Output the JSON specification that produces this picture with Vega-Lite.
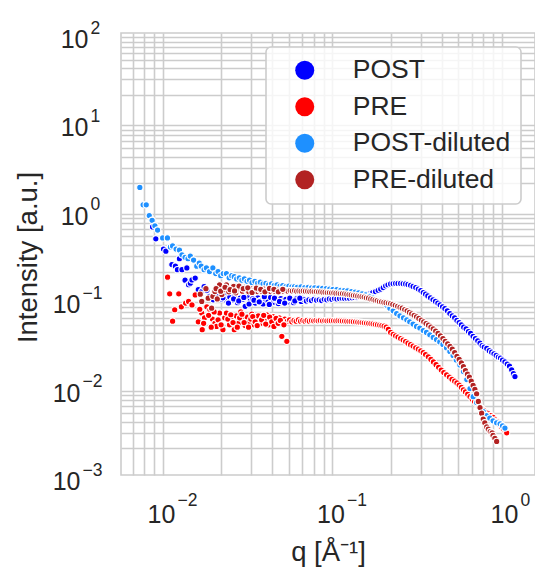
{
  "$schema": "https://vega.github.io/schema/vega-lite/v6.json",
  "autosize": {"type": "none"},
  "width": 414,
  "height": 442,
  "padding": {"left": 121, "top": 33, "right": 0, "bottom": 96},
  "background": "white",
  "config": {
    "view": {"stroke": "#cccccc", "strokeWidth": 1.6},
    "font": "Liberation Sans",
    "axis": {"labelFont": "Liberation Sans", "titleFont": "Liberation Sans", "labelColor": "#262626", "titleColor": "#262626", "titleFontWeight": "normal"},
    "legend": {"labelFont": "Liberation Sans", "strokeWidth": 1.6}
  },
  "data": {"values": [
    {"s":"POST","q":0.00785,"I":0.64},{"s":"POST","q":0.0082,"I":0.47},{"s":"POST","q":0.0091,"I":0.36},{"s":"POST","q":0.0094,"I":0.34},{"s":"POST","q":0.0102,"I":0.24},{"s":"POST","q":0.0107,"I":0.23},{"s":"POST","q":0.011,"I":0.21},{"s":"POST","q":0.0113,"I":0.28},{"s":"POST","q":0.0117,"I":0.21},{"s":"POST","q":0.0122,"I":0.16},{"s":"POST","q":0.0125,"I":0.22},{"s":"POST","q":0.0128,"I":0.142},{"s":"POST","q":0.0131,"I":0.148},{"s":"POST","q":0.0134,"I":0.161},{"s":"POST","q":0.014,"I":0.169},{"s":"POST","q":0.0146,"I":0.125},{"s":"POST","q":0.0153,"I":0.119},{"s":"POST","q":0.0158,"I":0.135},{"s":"POST","q":0.0164,"I":0.122},{"s":"POST","q":0.017,"I":0.105},{"s":"POST","q":0.0179,"I":0.096},{"s":"POST","q":0.0186,"I":0.13},{"s":"POST","q":0.0193,"I":0.108},{"s":"POST","q":0.02,"I":0.098},{"s":"POST","q":0.0208,"I":0.112},{"s":"POST","q":0.0216,"I":0.092},{"s":"POST","q":0.0224,"I":0.103},{"s":"POST","q":0.0232,"I":0.095},{"s":"POST","q":0.024,"I":0.106},{"s":"POST","q":0.0249,"I":0.089},{"s":"POST","q":0.0258,"I":0.1},{"s":"POST","q":0.0267,"I":0.097},{"s":"POST","q":0.0276,"I":0.081},{"s":"POST","q":0.0286,"I":0.104},{"s":"POST","q":0.0296,"I":0.093},{"s":"POST","q":0.0306,"I":0.099},{"s":"POST","q":0.0317,"I":0.088},{"s":"POST","q":0.0328,"I":0.101},{"s":"POST","q":0.034,"I":0.094},{"s":"POST","q":0.0352,"I":0.086},{"s":"POST","q":0.0364,"I":0.098},{"s":"POST","q":0.0377,"I":0.092},{"s":"POST","q":0.039,"I":0.102},{"s":"POST","q":0.0404,"I":0.09},{"s":"POST","q":0.0418,"I":0.096},{"s":"POST","q":0.0433,"I":0.087},{"s":"POST","q":0.0448,"I":0.099},{"s":"POST","q":0.0464,"I":0.093},{"s":"POST","q":0.048,"I":0.097},{"s":"POST","q":0.0497,"I":0.091},{"s":"POST","q":0.0515,"I":0.095},{"s":"POST","q":0.0533,"I":0.089},{"s":"POST","q":0.0552,"I":0.098},{"s":"POST","q":0.0571,"I":0.094},{"s":"POST","q":0.0591,"I":0.092},{"s":"POST","q":0.0612,"I":0.097},{"s":"POST","q":0.0634,"I":0.093},{"s":"POST","q":0.0656,"I":0.096},{"s":"POST","q":0.0679,"I":0.094},{"s":"POST","q":0.0703,"I":0.097},{"s":"POST","q":0.0728,"I":0.095},{"s":"POST","q":0.0754,"I":0.096},{"s":"POST","q":0.078,"I":0.094},{"s":"POST","q":0.0808,"I":0.097},{"s":"POST","q":0.0836,"I":0.096},{"s":"POST","q":0.0866,"I":0.098},{"s":"POST","q":0.0896,"I":0.097},{"s":"POST","q":0.0928,"I":0.099},{"s":"POST","q":0.096,"I":0.098},{"s":"POST","q":0.0994,"I":0.099},{"s":"POST","q":0.103,"I":0.1},{"s":"POST","q":0.1065,"I":0.099},{"s":"POST","q":0.11,"I":0.1},{"s":"POST","q":0.114,"I":0.1},{"s":"POST","q":0.118,"I":0.101},{"s":"POST","q":0.122,"I":0.102},{"s":"POST","q":0.126,"I":0.103},{"s":"POST","q":0.131,"I":0.105},{"s":"POST","q":0.136,"I":0.107},{"s":"POST","q":0.141,"I":0.109},{"s":"POST","q":0.146,"I":0.111},{"s":"POST","q":0.151,"I":0.113},{"s":"POST","q":0.156,"I":0.116},{"s":"POST","q":0.162,"I":0.119},{"s":"POST","q":0.168,"I":0.123},{"s":"POST","q":0.174,"I":0.127},{"s":"POST","q":0.18,"I":0.132},{"s":"POST","q":0.186,"I":0.138},{"s":"POST","q":0.192,"I":0.142},{"s":"POST","q":0.199,"I":0.145},{"s":"POST","q":0.206,"I":0.146},{"s":"POST","q":0.213,"I":0.147},{"s":"POST","q":0.22,"I":0.147},{"s":"POST","q":0.228,"I":0.147},{"s":"POST","q":0.236,"I":0.146},{"s":"POST","q":0.244,"I":0.145},{"s":"POST","q":0.252,"I":0.143},{"s":"POST","q":0.261,"I":0.14},{"s":"POST","q":0.27,"I":0.136},{"s":"POST","q":0.28,"I":0.132},{"s":"POST","q":0.29,"I":0.127},{"s":"POST","q":0.3,"I":0.122},{"s":"POST","q":0.31,"I":0.116},{"s":"POST","q":0.32,"I":0.111},{"s":"POST","q":0.33,"I":0.106},{"s":"POST","q":0.342,"I":0.101},{"s":"POST","q":0.354,"I":0.096},{"s":"POST","q":0.366,"I":0.092},{"s":"POST","q":0.378,"I":0.088},{"s":"POST","q":0.39,"I":0.084},{"s":"POST","q":0.403,"I":0.08},{"s":"POST","q":0.416,"I":0.076},{"s":"POST","q":0.43,"I":0.072},{"s":"POST","q":0.445,"I":0.067},{"s":"POST","q":0.46,"I":0.063},{"s":"POST","q":0.475,"I":0.06},{"s":"POST","q":0.49,"I":0.056},{"s":"POST","q":0.505,"I":0.053},{"s":"POST","q":0.52,"I":0.05},{"s":"POST","q":0.537,"I":0.047},{"s":"POST","q":0.555,"I":0.045},{"s":"POST","q":0.573,"I":0.042},{"s":"POST","q":0.59,"I":0.04},{"s":"POST","q":0.61,"I":0.037},{"s":"POST","q":0.63,"I":0.035},{"s":"POST","q":0.65,"I":0.033},{"s":"POST","q":0.67,"I":0.031},{"s":"POST","q":0.69,"I":0.029},{"s":"POST","q":0.71,"I":0.028},{"s":"POST","q":0.735,"I":0.027},{"s":"POST","q":0.76,"I":0.0255},{"s":"POST","q":0.785,"I":0.0245},{"s":"POST","q":0.81,"I":0.0235},{"s":"POST","q":0.835,"I":0.0225},{"s":"POST","q":0.86,"I":0.0215},{"s":"POST","q":0.885,"I":0.021},{"s":"POST","q":0.91,"I":0.02},{"s":"POST","q":0.94,"I":0.019},{"s":"POST","q":0.97,"I":0.018},{"s":"POST","q":1.0,"I":0.017},{"s":"POST","q":1.03,"I":0.0155},{"s":"POST","q":1.055,"I":0.014},{"s":"POST","q":1.077,"I":0.013},
    {"s":"POST","q":0.0204,"I":0.101},{"s":"POST","q":0.022,"I":0.088},{"s":"POST","q":0.0236,"I":0.098},{"s":"POST","q":0.0253,"I":0.093},{"s":"POST","q":0.0271,"I":0.102},{"s":"POST","q":0.0291,"I":0.086},{"s":"POST","q":0.0311,"I":0.095},{"s":"POST","q":0.0334,"I":0.091},{"s":"POST","q":0.0358,"I":0.104},{"s":"POST","q":0.0383,"I":0.085},{"s":"POST","q":0.0411,"I":0.1},{"s":"POST","q":0.044,"I":0.092},{"s":"POST","q":0.0472,"I":0.088},{"s":"POST","q":0.0506,"I":0.1},{"s":"POST","q":0.0542,"I":0.093},{"s":"POST","q":0.058,"I":0.1},
    {"s":"PRE","q":0.00962,"I":0.173},{"s":"PRE","q":0.0099,"I":0.112},{"s":"PRE","q":0.0103,"I":0.055},{"s":"PRE","q":0.0106,"I":0.074},{"s":"PRE","q":0.0112,"I":0.112},{"s":"PRE","q":0.0116,"I":0.08},{"s":"PRE","q":0.0123,"I":0.088},{"s":"PRE","q":0.0128,"I":0.092},{"s":"PRE","q":0.0134,"I":0.084},{"s":"PRE","q":0.014,"I":0.109},{"s":"PRE","q":0.0146,"I":0.054},{"s":"PRE","q":0.0153,"I":0.068},{"s":"PRE","q":0.0154,"I":0.044},{"s":"PRE","q":0.0159,"I":0.06},{"s":"PRE","q":0.0164,"I":0.08},{"s":"PRE","q":0.0171,"I":0.074},{"s":"PRE","q":0.0177,"I":0.058},{"s":"PRE","q":0.0183,"I":0.052},{"s":"PRE","q":0.0187,"I":0.048},{"s":"PRE","q":0.0195,"I":0.068},{"s":"PRE","q":0.0204,"I":0.044},{"s":"PRE","q":0.0209,"I":0.06},{"s":"PRE","q":0.0214,"I":0.068},{"s":"PRE","q":0.0223,"I":0.05},{"s":"PRE","q":0.023,"I":0.056},{"s":"PRE","q":0.0238,"I":0.044},{"s":"PRE","q":0.0245,"I":0.063},{"s":"PRE","q":0.0252,"I":0.052},{"s":"PRE","q":0.026,"I":0.07},{"s":"PRE","q":0.0268,"I":0.057},{"s":"PRE","q":0.0276,"I":0.049},{"s":"PRE","q":0.0284,"I":0.061},{"s":"PRE","q":0.0293,"I":0.054},{"s":"PRE","q":0.0302,"I":0.066},{"s":"PRE","q":0.0311,"I":0.05},{"s":"PRE","q":0.032,"I":0.058},{"s":"PRE","q":0.033,"I":0.063},{"s":"PRE","q":0.034,"I":0.052},{"s":"PRE","q":0.035,"I":0.06},{"s":"PRE","q":0.036,"I":0.055},{"s":"PRE","q":0.037,"I":0.065},{"s":"PRE","q":0.038,"I":0.05},{"s":"PRE","q":0.039,"I":0.058},{"s":"PRE","q":0.0402,"I":0.062},{"s":"PRE","q":0.0414,"I":0.053},{"s":"PRE","q":0.0426,"I":0.057},{"s":"PRE","q":0.0438,"I":0.06},{"s":"PRE","q":0.0454,"I":0.037},{"s":"PRE","q":0.046,"I":0.054},{"s":"PRE","q":0.0473,"I":0.058},{"s":"PRE","q":0.0486,"I":0.0325},{"s":"PRE","q":0.049,"I":0.055},{"s":"PRE","q":0.0505,"I":0.057},{"s":"PRE","q":0.052,"I":0.054},{"s":"PRE","q":0.0536,"I":0.056},{"s":"PRE","q":0.0552,"I":0.055},{"s":"PRE","q":0.0569,"I":0.057},{"s":"PRE","q":0.0586,"I":0.055},{"s":"PRE","q":0.0604,"I":0.056},{"s":"PRE","q":0.0622,"I":0.055},{"s":"PRE","q":0.064,"I":0.056},{"s":"PRE","q":0.066,"I":0.055},{"s":"PRE","q":0.068,"I":0.056},{"s":"PRE","q":0.07,"I":0.0555},{"s":"PRE","q":0.0722,"I":0.056},{"s":"PRE","q":0.0744,"I":0.0555},{"s":"PRE","q":0.0766,"I":0.056},{"s":"PRE","q":0.079,"I":0.0555},{"s":"PRE","q":0.0814,"I":0.0558},{"s":"PRE","q":0.0838,"I":0.0555},{"s":"PRE","q":0.0864,"I":0.0557},{"s":"PRE","q":0.089,"I":0.0556},{"s":"PRE","q":0.0917,"I":0.0556},{"s":"PRE","q":0.0945,"I":0.0555},{"s":"PRE","q":0.0974,"I":0.0556},{"s":"PRE","q":0.1003,"I":0.0554},{"s":"PRE","q":0.1034,"I":0.0553},{"s":"PRE","q":0.1065,"I":0.0552},{"s":"PRE","q":0.1097,"I":0.055},{"s":"PRE","q":0.113,"I":0.0548},{"s":"PRE","q":0.1165,"I":0.0546},{"s":"PRE","q":0.12,"I":0.0543},{"s":"PRE","q":0.1236,"I":0.054},{"s":"PRE","q":0.1274,"I":0.0537},{"s":"PRE","q":0.1312,"I":0.0534},{"s":"PRE","q":0.1352,"I":0.053},{"s":"PRE","q":0.1393,"I":0.0527},{"s":"PRE","q":0.1435,"I":0.0523},{"s":"PRE","q":0.1478,"I":0.052},{"s":"PRE","q":0.1523,"I":0.0516},{"s":"PRE","q":0.1569,"I":0.0512},{"s":"PRE","q":0.1617,"I":0.0507},{"s":"PRE","q":0.1666,"I":0.0502},{"s":"PRE","q":0.1716,"I":0.0496},{"s":"PRE","q":0.1768,"I":0.049},{"s":"PRE","q":0.1822,"I":0.0482},{"s":"PRE","q":0.1877,"I":0.047},{"s":"PRE","q":0.193,"I":0.0445},{"s":"PRE","q":0.199,"I":0.041},{"s":"PRE","q":0.206,"I":0.039},{"s":"PRE","q":0.213,"I":0.0375},{"s":"PRE","q":0.22,"I":0.0363},{"s":"PRE","q":0.228,"I":0.035},{"s":"PRE","q":0.236,"I":0.0336},{"s":"PRE","q":0.244,"I":0.0323},{"s":"PRE","q":0.252,"I":0.031},{"s":"PRE","q":0.261,"I":0.0298},{"s":"PRE","q":0.27,"I":0.0287},{"s":"PRE","q":0.28,"I":0.0275},{"s":"PRE","q":0.29,"I":0.0265},{"s":"PRE","q":0.3,"I":0.0254},{"s":"PRE","q":0.31,"I":0.0242},{"s":"PRE","q":0.32,"I":0.023},{"s":"PRE","q":0.332,"I":0.0217},{"s":"PRE","q":0.344,"I":0.0203},{"s":"PRE","q":0.356,"I":0.019},{"s":"PRE","q":0.369,"I":0.0177},{"s":"PRE","q":0.382,"I":0.0165},{"s":"PRE","q":0.396,"I":0.0154},{"s":"PRE","q":0.41,"I":0.0144},{"s":"PRE","q":0.426,"I":0.0136},{"s":"PRE","q":0.442,"I":0.0128},{"s":"PRE","q":0.458,"I":0.0121},{"s":"PRE","q":0.475,"I":0.0115},{"s":"PRE","q":0.49,"I":0.011},{"s":"PRE","q":0.505,"I":0.0104},{"s":"PRE","q":0.52,"I":0.0098},{"s":"PRE","q":0.535,"I":0.0092},{"s":"PRE","q":0.55,"I":0.0087},{"s":"PRE","q":0.567,"I":0.0082},{"s":"PRE","q":0.585,"I":0.0077},{"s":"PRE","q":0.603,"I":0.0072},{"s":"PRE","q":0.622,"I":0.0068},{"s":"PRE","q":0.642,"I":0.0064},{"s":"PRE","q":0.662,"I":0.006},{"s":"PRE","q":0.683,"I":0.0057},{"s":"PRE","q":0.705,"I":0.0054},{"s":"PRE","q":0.728,"I":0.0051},{"s":"PRE","q":0.752,"I":0.0049},{"s":"PRE","q":0.777,"I":0.0047},{"s":"PRE","q":0.8,"I":0.0045},{"s":"PRE","q":0.825,"I":0.0042},{"s":"PRE","q":0.85,"I":0.004},{"s":"PRE","q":0.875,"I":0.0037},{"s":"PRE","q":0.9,"I":0.0035},{"s":"PRE","q":0.925,"I":0.0033},{"s":"PRE","q":0.945,"I":0.0031},{"s":"PRE","q":0.963,"I":0.003},
    {"s":"PRE","q":0.0149,"I":0.075},{"s":"PRE","q":0.0157,"I":0.052},{"s":"PRE","q":0.0168,"I":0.064},{"s":"PRE","q":0.0174,"I":0.047},{"s":"PRE","q":0.0181,"I":0.07},{"s":"PRE","q":0.0191,"I":0.057},{"s":"PRE","q":0.0199,"I":0.05},{"s":"PRE","q":0.0218,"I":0.058},{"s":"PRE","q":0.0227,"I":0.065},{"s":"PRE","q":0.0234,"I":0.053},{"s":"PRE","q":0.0248,"I":0.047},{"s":"PRE","q":0.0256,"I":0.06},{"s":"PRE","q":0.0264,"I":0.066},{"s":"PRE","q":0.0272,"I":0.053},{"s":"PRE","q":0.0289,"I":0.047},{"s":"PRE","q":0.0298,"I":0.058},{"s":"PRE","q":0.0306,"I":0.062},{"s":"PRE","q":0.0316,"I":0.054},{"s":"PRE","q":0.0325,"I":0.049},{"s":"PRE","q":0.0345,"I":0.057},{"s":"PRE","q":0.0355,"I":0.064},{"s":"PRE","q":0.0365,"I":0.051},{"s":"PRE","q":0.0385,"I":0.061},{"s":"PRE","q":0.0396,"I":0.054},{"s":"PRE","q":0.0408,"I":0.048},{"s":"PRE","q":0.042,"I":0.059},{"s":"PRE","q":0.0432,"I":0.052},{"s":"PRE","q":0.0445,"I":0.056},{"s":"PRE","q":0.0467,"I":0.05},
    {"s":"POST-diluted","q":0.0066,"I":1.79},{"s":"POST-diluted","q":0.0069,"I":1.14},{"s":"POST-diluted","q":0.0072,"I":1.14},{"s":"POST-diluted","q":0.0075,"I":0.86},{"s":"POST-diluted","q":0.0078,"I":0.76},{"s":"POST-diluted","q":0.0081,"I":0.66},{"s":"POST-diluted","q":0.0084,"I":0.59},{"s":"POST-diluted","q":0.009,"I":0.48},{"s":"POST-diluted","q":0.0096,"I":0.48},{"s":"POST-diluted","q":0.01,"I":0.38},{"s":"POST-diluted","q":0.0103,"I":0.39},{"s":"POST-diluted","q":0.0108,"I":0.36},{"s":"POST-diluted","q":0.0113,"I":0.35},{"s":"POST-diluted","q":0.0117,"I":0.31},{"s":"POST-diluted","q":0.0122,"I":0.29},{"s":"POST-diluted","q":0.0127,"I":0.28},{"s":"POST-diluted","q":0.0131,"I":0.3},{"s":"POST-diluted","q":0.0137,"I":0.27},{"s":"POST-diluted","q":0.0143,"I":0.23},{"s":"POST-diluted","q":0.0148,"I":0.25},{"s":"POST-diluted","q":0.0152,"I":0.23},{"s":"POST-diluted","q":0.0158,"I":0.21},{"s":"POST-diluted","q":0.0163,"I":0.22},{"s":"POST-diluted","q":0.017,"I":0.2},{"s":"POST-diluted","q":0.0178,"I":0.22},{"s":"POST-diluted","q":0.0185,"I":0.19},{"s":"POST-diluted","q":0.0191,"I":0.2},{"s":"POST-diluted","q":0.0198,"I":0.18},{"s":"POST-diluted","q":0.0205,"I":0.19},{"s":"POST-diluted","q":0.0214,"I":0.19},{"s":"POST-diluted","q":0.0222,"I":0.17},{"s":"POST-diluted","q":0.023,"I":0.18},{"s":"POST-diluted","q":0.0238,"I":0.175},{"s":"POST-diluted","q":0.0246,"I":0.165},{"s":"POST-diluted","q":0.0255,"I":0.17},{"s":"POST-diluted","q":0.0264,"I":0.16},{"s":"POST-diluted","q":0.0273,"I":0.165},{"s":"POST-diluted","q":0.0283,"I":0.155},{"s":"POST-diluted","q":0.0293,"I":0.16},{"s":"POST-diluted","q":0.0303,"I":0.15},{"s":"POST-diluted","q":0.0315,"I":0.155},{"s":"POST-diluted","q":0.0327,"I":0.148},{"s":"POST-diluted","q":0.0339,"I":0.152},{"s":"POST-diluted","q":0.0352,"I":0.145},{"s":"POST-diluted","q":0.0366,"I":0.147},{"s":"POST-diluted","q":0.038,"I":0.142},{"s":"POST-diluted","q":0.0395,"I":0.145},{"s":"POST-diluted","q":0.041,"I":0.14},{"s":"POST-diluted","q":0.0426,"I":0.142},{"s":"POST-diluted","q":0.0443,"I":0.137},{"s":"POST-diluted","q":0.046,"I":0.139},{"s":"POST-diluted","q":0.048,"I":0.135},{"s":"POST-diluted","q":0.05,"I":0.137},{"s":"POST-diluted","q":0.052,"I":0.134},{"s":"POST-diluted","q":0.054,"I":0.135},{"s":"POST-diluted","q":0.056,"I":0.133},{"s":"POST-diluted","q":0.059,"I":0.134},{"s":"POST-diluted","q":0.062,"I":0.132},{"s":"POST-diluted","q":0.065,"I":0.133},{"s":"POST-diluted","q":0.068,"I":0.131},{"s":"POST-diluted","q":0.071,"I":0.131},{"s":"POST-diluted","q":0.075,"I":0.13},{"s":"POST-diluted","q":0.079,"I":0.129},{"s":"POST-diluted","q":0.083,"I":0.128},{"s":"POST-diluted","q":0.087,"I":0.127},{"s":"POST-diluted","q":0.091,"I":0.126},{"s":"POST-diluted","q":0.096,"I":0.125},{"s":"POST-diluted","q":0.101,"I":0.123},{"s":"POST-diluted","q":0.106,"I":0.122},{"s":"POST-diluted","q":0.111,"I":0.121},{"s":"POST-diluted","q":0.117,"I":0.119},{"s":"POST-diluted","q":0.123,"I":0.117},{"s":"POST-diluted","q":0.129,"I":0.115},{"s":"POST-diluted","q":0.135,"I":0.112},{"s":"POST-diluted","q":0.142,"I":0.109},{"s":"POST-diluted","q":0.149,"I":0.105},{"s":"POST-diluted","q":0.156,"I":0.101},{"s":"POST-diluted","q":0.164,"I":0.097},{"s":"POST-diluted","q":0.172,"I":0.093},{"s":"POST-diluted","q":0.18,"I":0.088},{"s":"POST-diluted","q":0.189,"I":0.083},{"s":"POST-diluted","q":0.197,"I":0.077},{"s":"POST-diluted","q":0.206,"I":0.072},{"s":"POST-diluted","q":0.216,"I":0.067},{"s":"POST-diluted","q":0.226,"I":0.063},{"s":"POST-diluted","q":0.237,"I":0.06},{"s":"POST-diluted","q":0.248,"I":0.057},{"s":"POST-diluted","q":0.258,"I":0.054},{"s":"POST-diluted","q":0.27,"I":0.051},{"s":"POST-diluted","q":0.283,"I":0.048},{"s":"POST-diluted","q":0.296,"I":0.046},{"s":"POST-diluted","q":0.31,"I":0.043},{"s":"POST-diluted","q":0.324,"I":0.041},{"s":"POST-diluted","q":0.339,"I":0.0385},{"s":"POST-diluted","q":0.355,"I":0.036},{"s":"POST-diluted","q":0.371,"I":0.034},{"s":"POST-diluted","q":0.388,"I":0.032},{"s":"POST-diluted","q":0.405,"I":0.03},{"s":"POST-diluted","q":0.425,"I":0.0275},{"s":"POST-diluted","q":0.445,"I":0.025},{"s":"POST-diluted","q":0.465,"I":0.0225},{"s":"POST-diluted","q":0.485,"I":0.02},{"s":"POST-diluted","q":0.51,"I":0.0176},{"s":"POST-diluted","q":0.535,"I":0.0148},{"s":"POST-diluted","q":0.56,"I":0.012},{"s":"POST-diluted","q":0.585,"I":0.0095},{"s":"POST-diluted","q":0.611,"I":0.0077},{"s":"POST-diluted","q":0.64,"I":0.0066},{"s":"POST-diluted","q":0.67,"I":0.0058},{"s":"POST-diluted","q":0.7,"I":0.0052},{"s":"POST-diluted","q":0.73,"I":0.0047},{"s":"POST-diluted","q":0.765,"I":0.0044},{"s":"POST-diluted","q":0.8,"I":0.0041},{"s":"POST-diluted","q":0.84,"I":0.0039},{"s":"POST-diluted","q":0.88,"I":0.0038},{"s":"POST-diluted","q":0.91,"I":0.0036},{"s":"POST-diluted","q":0.94,"I":0.0034},
    {"s":"PRE-diluted","q":0.015,"I":0.111},{"s":"PRE-diluted","q":0.0153,"I":0.092},{"s":"PRE-diluted","q":0.0162,"I":0.128},{"s":"PRE-diluted","q":0.0167,"I":0.1},{"s":"PRE-diluted","q":0.0175,"I":0.077},{"s":"PRE-diluted","q":0.0178,"I":0.105},{"s":"PRE-diluted","q":0.0183,"I":0.119},{"s":"PRE-diluted","q":0.0189,"I":0.098},{"s":"PRE-diluted","q":0.0195,"I":0.142},{"s":"PRE-diluted","q":0.0201,"I":0.11},{"s":"PRE-diluted","q":0.0207,"I":0.125},{"s":"PRE-diluted","q":0.0214,"I":0.142},{"s":"PRE-diluted","q":0.0221,"I":0.118},{"s":"PRE-diluted","q":0.0228,"I":0.13},{"s":"PRE-diluted","q":0.0236,"I":0.136},{"s":"PRE-diluted","q":0.0243,"I":0.115},{"s":"PRE-diluted","q":0.025,"I":0.127},{"s":"PRE-diluted","q":0.0258,"I":0.13},{"s":"PRE-diluted","q":0.0266,"I":0.12},{"s":"PRE-diluted","q":0.0273,"I":0.133},{"s":"PRE-diluted","q":0.0281,"I":0.124},{"s":"PRE-diluted","q":0.029,"I":0.118},{"s":"PRE-diluted","q":0.0298,"I":0.128},{"s":"PRE-diluted","q":0.0307,"I":0.121},{"s":"PRE-diluted","q":0.0316,"I":0.126},{"s":"PRE-diluted","q":0.0326,"I":0.119},{"s":"PRE-diluted","q":0.0336,"I":0.124},{"s":"PRE-diluted","q":0.0346,"I":0.12},{"s":"PRE-diluted","q":0.0356,"I":0.127},{"s":"PRE-diluted","q":0.0367,"I":0.121},{"s":"PRE-diluted","q":0.0378,"I":0.124},{"s":"PRE-diluted","q":0.039,"I":0.119},{"s":"PRE-diluted","q":0.0402,"I":0.123},{"s":"PRE-diluted","q":0.0414,"I":0.12},{"s":"PRE-diluted","q":0.0426,"I":0.124},{"s":"PRE-diluted","q":0.0439,"I":0.121},{"s":"PRE-diluted","q":0.0452,"I":0.123},{"s":"PRE-diluted","q":0.0466,"I":0.12},{"s":"PRE-diluted","q":0.048,"I":0.122},{"s":"PRE-diluted","q":0.0494,"I":0.12},{"s":"PRE-diluted","q":0.0509,"I":0.122},{"s":"PRE-diluted","q":0.0524,"I":0.121},{"s":"PRE-diluted","q":0.054,"I":0.122},{"s":"PRE-diluted","q":0.0556,"I":0.12},{"s":"PRE-diluted","q":0.0573,"I":0.121},{"s":"PRE-diluted","q":0.059,"I":0.12},{"s":"PRE-diluted","q":0.0608,"I":0.121},{"s":"PRE-diluted","q":0.0626,"I":0.12},{"s":"PRE-diluted","q":0.0645,"I":0.12},{"s":"PRE-diluted","q":0.0664,"I":0.119},{"s":"PRE-diluted","q":0.0684,"I":0.12},{"s":"PRE-diluted","q":0.0705,"I":0.119},{"s":"PRE-diluted","q":0.0726,"I":0.119},{"s":"PRE-diluted","q":0.0748,"I":0.118},{"s":"PRE-diluted","q":0.077,"I":0.118},{"s":"PRE-diluted","q":0.0793,"I":0.117},{"s":"PRE-diluted","q":0.0817,"I":0.117},{"s":"PRE-diluted","q":0.0842,"I":0.116},{"s":"PRE-diluted","q":0.0867,"I":0.116},{"s":"PRE-diluted","q":0.0893,"I":0.115},{"s":"PRE-diluted","q":0.092,"I":0.115},{"s":"PRE-diluted","q":0.0947,"I":0.114},{"s":"PRE-diluted","q":0.0976,"I":0.114},{"s":"PRE-diluted","q":0.1005,"I":0.113},{"s":"PRE-diluted","q":0.1035,"I":0.113},{"s":"PRE-diluted","q":0.1066,"I":0.112},{"s":"PRE-diluted","q":0.1098,"I":0.111},{"s":"PRE-diluted","q":0.1131,"I":0.11},{"s":"PRE-diluted","q":0.1165,"I":0.109},{"s":"PRE-diluted","q":0.12,"I":0.108},{"s":"PRE-diluted","q":0.1236,"I":0.107},{"s":"PRE-diluted","q":0.1273,"I":0.106},{"s":"PRE-diluted","q":0.1311,"I":0.105},{"s":"PRE-diluted","q":0.135,"I":0.104},{"s":"PRE-diluted","q":0.139,"I":0.103},{"s":"PRE-diluted","q":0.1432,"I":0.101},{"s":"PRE-diluted","q":0.1475,"I":0.1},{"s":"PRE-diluted","q":0.152,"I":0.098},{"s":"PRE-diluted","q":0.1565,"I":0.097},{"s":"PRE-diluted","q":0.1612,"I":0.095},{"s":"PRE-diluted","q":0.166,"I":0.094},{"s":"PRE-diluted","q":0.171,"I":0.092},{"s":"PRE-diluted","q":0.176,"I":0.091},{"s":"PRE-diluted","q":0.1815,"I":0.09},{"s":"PRE-diluted","q":0.187,"I":0.089},{"s":"PRE-diluted","q":0.193,"I":0.088},{"s":"PRE-diluted","q":0.199,"I":0.087},{"s":"PRE-diluted","q":0.205,"I":0.085},{"s":"PRE-diluted","q":0.212,"I":0.083},{"s":"PRE-diluted","q":0.219,"I":0.081},{"s":"PRE-diluted","q":0.226,"I":0.079},{"s":"PRE-diluted","q":0.233,"I":0.077},{"s":"PRE-diluted","q":0.241,"I":0.0745},{"s":"PRE-diluted","q":0.249,"I":0.072},{"s":"PRE-diluted","q":0.257,"I":0.069},{"s":"PRE-diluted","q":0.265,"I":0.0665},{"s":"PRE-diluted","q":0.274,"I":0.064},{"s":"PRE-diluted","q":0.283,"I":0.0615},{"s":"PRE-diluted","q":0.292,"I":0.059},{"s":"PRE-diluted","q":0.302,"I":0.0565},{"s":"PRE-diluted","q":0.312,"I":0.054},{"s":"PRE-diluted","q":0.322,"I":0.0517},{"s":"PRE-diluted","q":0.333,"I":0.0495},{"s":"PRE-diluted","q":0.344,"I":0.0472},{"s":"PRE-diluted","q":0.355,"I":0.045},{"s":"PRE-diluted","q":0.367,"I":0.0425},{"s":"PRE-diluted","q":0.379,"I":0.04},{"s":"PRE-diluted","q":0.392,"I":0.0375},{"s":"PRE-diluted","q":0.405,"I":0.035},{"s":"PRE-diluted","q":0.418,"I":0.0325},{"s":"PRE-diluted","q":0.432,"I":0.0305},{"s":"PRE-diluted","q":0.446,"I":0.0285},{"s":"PRE-diluted","q":0.46,"I":0.0265},{"s":"PRE-diluted","q":0.475,"I":0.0243},{"s":"PRE-diluted","q":0.49,"I":0.022},{"s":"PRE-diluted","q":0.505,"I":0.0203},{"s":"PRE-diluted","q":0.52,"I":0.0185},{"s":"PRE-diluted","q":0.535,"I":0.0168},{"s":"PRE-diluted","q":0.55,"I":0.0152},{"s":"PRE-diluted","q":0.565,"I":0.0138},{"s":"PRE-diluted","q":0.58,"I":0.0128},{"s":"PRE-diluted","q":0.595,"I":0.0115},{"s":"PRE-diluted","q":0.61,"I":0.0103},{"s":"PRE-diluted","q":0.625,"I":0.0093},{"s":"PRE-diluted","q":0.64,"I":0.0083},{"s":"PRE-diluted","q":0.655,"I":0.0068},{"s":"PRE-diluted","q":0.67,"I":0.0058},{"s":"PRE-diluted","q":0.685,"I":0.005},{"s":"PRE-diluted","q":0.7,"I":0.0043},{"s":"PRE-diluted","q":0.715,"I":0.0039},{"s":"PRE-diluted","q":0.734,"I":0.0035},{"s":"PRE-diluted","q":0.75,"I":0.0033},{"s":"PRE-diluted","q":0.77,"I":0.0031},{"s":"PRE-diluted","q":0.79,"I":0.003},{"s":"PRE-diluted","q":0.8,"I":0.0028},{"s":"PRE-diluted","q":0.82,"I":0.0026},{"s":"PRE-diluted","q":0.84,"I":0.0024},
    {"s":"PRE-diluted","q":0.0186,"I":0.128},{"s":"PRE-diluted","q":0.0198,"I":0.12},{"s":"PRE-diluted","q":0.021,"I":0.133},{"s":"PRE-diluted","q":0.0225,"I":0.125},{"s":"PRE-diluted","q":0.0239,"I":0.121},{"s":"PRE-diluted","q":0.0254,"I":0.137},{"s":"PRE-diluted","q":0.0269,"I":0.128},{"s":"PRE-diluted","q":0.0286,"I":0.131},{"s":"PRE-diluted","q":0.0303,"I":0.116},{"s":"PRE-diluted","q":0.0321,"I":0.13},{"s":"PRE-diluted","q":0.0341,"I":0.126},{"s":"PRE-diluted","q":0.0361,"I":0.118},{"s":"PRE-diluted","q":0.0384,"I":0.129},{"s":"PRE-diluted","q":0.0408,"I":0.126},{"s":"PRE-diluted","q":0.0433,"I":0.118},{"s":"PRE-diluted","q":0.046,"I":0.126}
  ]},
  "layer": [
    {
      "mark": {"type": "circle", "size": 40, "opacity": 1, "stroke": "white", "strokeWidth": 1.1},
      "encoding": {
        "x": {
          "field": "q", "type": "quantitative",
          "scale": {"type": "log", "domain": [0.00511, 1.414], "nice": false},
          "axis": {
            "orient": "bottom",
            "values": [0.006,0.007,0.008,0.009,0.01,0.02,0.03,0.04,0.05,0.06,0.07,0.08,0.09,0.1,0.2,0.3,0.4,0.5,0.6,0.7,0.8,0.9,1],
            "labelExpr": "datum.value == 0.01 || datum.value == 0.1 || datum.value == 1 ? '10' : ''",
            "gridOpacity": {"condition": {"test": "datum.value == 0.01 || datum.value == 0.1 || datum.value == 1", "value": 0}, "value": 1},
            "gridColor": "#cccccc", "gridWidth": 1.6,
            "ticks": false, "domain": false,
            "labelFontSize": 25, "labelAlign": "center", "labelBaseline": "alphabetic", "labelPadding": 47.7,
            "labelOffset": {"condition": {"test": "datum.value == 1", "value": -5.5}, "value": -9.5},
            "labelOverlap": false, "labelFlush": false, "labelBound": false,
            "title": "q [Å⁻¹]", "titleFontSize": 27.5,
            "titleX": 207, "titleY": 85, "titleBaseline": "alphabetic", "titleAlign": "center", "titleAnchor": null
          }
        },
        "y": {
          "field": "I", "type": "quantitative",
          "scale": {"type": "log", "domain": [0.001, 100], "nice": false},
          "axis": {
            "orient": "left",
            "values": [0.001,0.002,0.003,0.004,0.005,0.006,0.007,0.008,0.009,0.01,0.02,0.03,0.04,0.05,0.06,0.07,0.08,0.09,0.1,0.2,0.3,0.4,0.5,0.6,0.7,0.8,0.9,1,2,3,4,5,6,7,8,9,10,20,30,40,50,60,70,80,90,100],
            "labelExpr": "datum.value == 100 || datum.value == 10 || datum.value == 1 || datum.value == 0.1 || datum.value == 0.01 || datum.value == 0.001 ? '10' : ''",
            "gridOpacity": {"condition": {"test": "datum.value == 100 || datum.value == 10 || datum.value == 1 || datum.value == 0.1 || datum.value == 0.01 || datum.value == 0.001", "value": 0}, "value": 1},
            "gridColor": "#cccccc", "gridWidth": 1.6,
            "ticks": false, "domain": false,
            "labelFontSize": 25, "labelAlign": "right", "labelBaseline": "alphabetic", "labelOffset": 14.5,
            "labelPadding": {"condition": {"test": "datum.value < 0.5", "value": 41}, "value": 33},
            "labelOverlap": false, "labelFlush": false, "labelBound": false,
            "title": "Intensity [a.u.]", "titleFontSize": 27.5,
            "titleX": -85, "titleY": 224, "titleAngle": -90, "titleBaseline": "alphabetic", "titleAlign": "center", "titleAnchor": null
          }
        },
        "color": {
          "field": "s", "type": "nominal", "sort": null,
          "scale": {"domain": ["POST", "PRE", "POST-diluted", "PRE-diluted"], "range": ["#0000ff", "#ff0000", "#1e90ff", "#b22222"]},
          "legend": {
            "title": null, "orient": "none", "legendX": 145, "legendY": 14,
            "direction": "vertical",
            "fillColor": "rgba(255,255,255,0.8)", "strokeColor": "#cccccc", "cornerRadius": 5,
            "padding": 10, "rowPadding": 9.5,
            "symbolType": "circle", "symbolSize": 361, "symbolStrokeWidth": 0, "symbolOpacity": 1, "symbolOffset": 15.5,
            "labelFontSize": 26.5, "labelColor": "#262626", "labelOffset": 34.7, "labelLimit": 400
          }
        }
      }
    },
    {
      "mark": {"type": "circle", "size": 1, "opacity": 0},
      "encoding": {
        "x": {
          "field": "q", "type": "quantitative",
          "scale": {"type": "log", "domain": [0.00511, 1.414], "nice": false},
          "axis": {
            "orient": "bottom",
            "values": [0.01, 0.1, 1],
            "labelExpr": "datum.value == 0.01 ? '−2' : datum.value == 0.1 ? '−1' : '0'",
            "grid": false, "ticks": false, "domain": false,
            "labelFontSize": 17.5, "labelAlign": "left", "labelBaseline": "alphabetic", "labelPadding": 30,
            "labelOffset": {"condition": {"test": "datum.value == 1", "value": 10.5}, "value": 6.5},
            "labelOverlap": false, "labelFlush": false, "labelBound": false,
            "title": null
          }
        },
        "y": {
          "field": "I", "type": "quantitative",
          "scale": {"type": "log", "domain": [0.001, 100], "nice": false},
          "axis": {
            "orient": "left",
            "values": [0.001, 0.01, 0.1, 1, 10, 100],
            "labelExpr": "datum.value == 100 ? '2' : datum.value == 10 ? '1' : datum.value == 1 ? '0' : datum.value == 0.1 ? '−1' : datum.value == 0.01 ? '−2' : '−3'",
            "grid": false, "ticks": false, "domain": false,
            "labelFontSize": 17.5, "labelAlign": "left", "labelBaseline": "alphabetic", "labelOffset": 0,
            "labelPadding": {"condition": {"test": "datum.value < 0.5", "value": 39}, "value": 31},
            "labelOverlap": false, "labelFlush": false, "labelBound": false,
            "title": null
          }
        }
      }
    }
  ],
  "resolve": {"axis": {"x": "independent", "y": "independent"}}
}
